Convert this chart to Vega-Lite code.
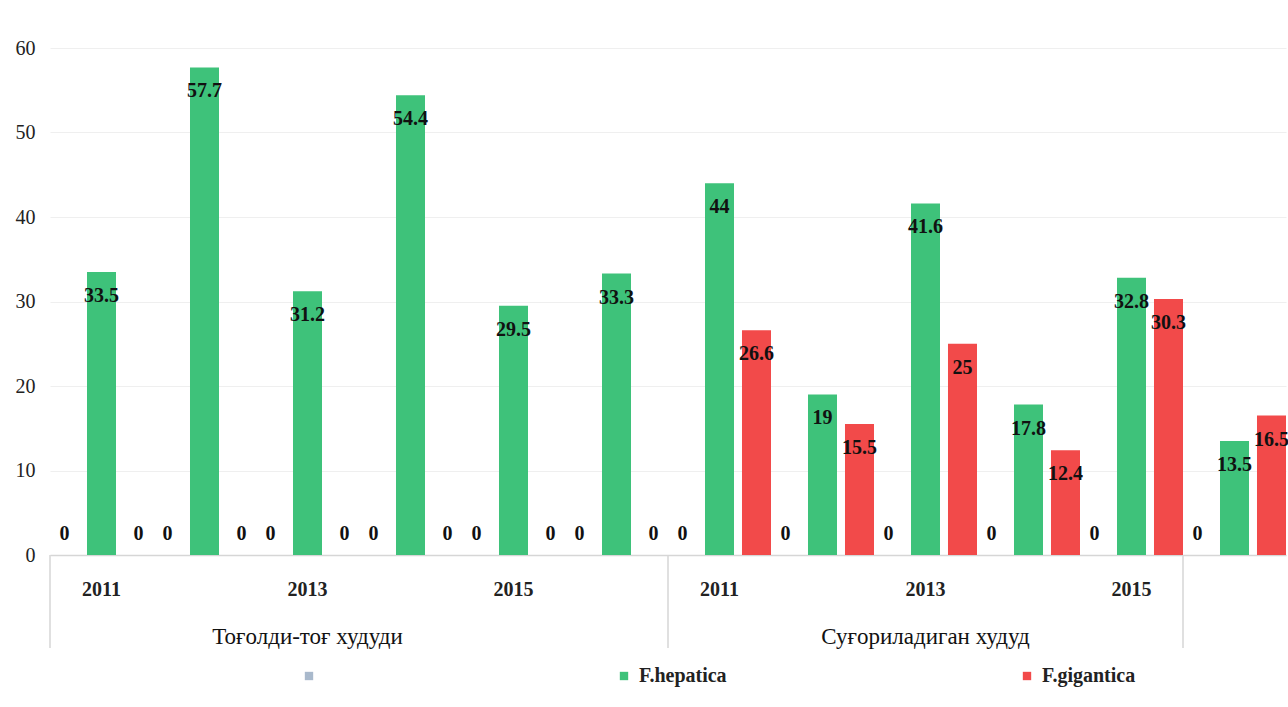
{
  "$schema": "https://vega.github.io/schema/vega-lite/v6.json",
  "width": 1236,
  "height": 507,
  "autosize": {"type": "none"},
  "padding": {"left": 50, "top": 48, "right": 2, "bottom": 152},
  "background": "white",
  "config": {"view": {"stroke": null}, "font": "Liberation Serif"},
  "datasets": {
    "bars": [
      {"key": "A2011", "series": " ", "value": 0},
      {"key": "A2011", "series": "F.hepatica", "value": 33.5},
      {"key": "A2011", "series": "F.gigantica", "value": 0},
      {"key": "A2012", "series": " ", "value": 0},
      {"key": "A2012", "series": "F.hepatica", "value": 57.7},
      {"key": "A2012", "series": "F.gigantica", "value": 0},
      {"key": "A2013", "series": " ", "value": 0},
      {"key": "A2013", "series": "F.hepatica", "value": 31.2},
      {"key": "A2013", "series": "F.gigantica", "value": 0},
      {"key": "A2014", "series": " ", "value": 0},
      {"key": "A2014", "series": "F.hepatica", "value": 54.4},
      {"key": "A2014", "series": "F.gigantica", "value": 0},
      {"key": "A2015", "series": " ", "value": 0},
      {"key": "A2015", "series": "F.hepatica", "value": 29.5},
      {"key": "A2015", "series": "F.gigantica", "value": 0},
      {"key": "A2016", "series": " ", "value": 0},
      {"key": "A2016", "series": "F.hepatica", "value": 33.3},
      {"key": "A2016", "series": "F.gigantica", "value": 0},
      {"key": "B2011", "series": " ", "value": 0},
      {"key": "B2011", "series": "F.hepatica", "value": 44},
      {"key": "B2011", "series": "F.gigantica", "value": 26.6},
      {"key": "B2012", "series": " ", "value": 0},
      {"key": "B2012", "series": "F.hepatica", "value": 19},
      {"key": "B2012", "series": "F.gigantica", "value": 15.5},
      {"key": "B2013", "series": " ", "value": 0},
      {"key": "B2013", "series": "F.hepatica", "value": 41.6},
      {"key": "B2013", "series": "F.gigantica", "value": 25},
      {"key": "B2014", "series": " ", "value": 0},
      {"key": "B2014", "series": "F.hepatica", "value": 17.8},
      {"key": "B2014", "series": "F.gigantica", "value": 12.4},
      {"key": "B2015", "series": " ", "value": 0},
      {"key": "B2015", "series": "F.hepatica", "value": 32.8},
      {"key": "B2015", "series": "F.gigantica", "value": 30.3},
      {"key": "C2011", "series": " ", "value": 0},
      {"key": "C2011", "series": "F.hepatica", "value": 13.5},
      {"key": "C2011", "series": "F.gigantica", "value": 16.5}
    ],
    "regions": [
      {"key": "A2013", "name": "Тоғолди-тоғ худуди"},
      {"key": "B2013", "name": "Суғориладиган худуд"}
    ],
    "seps": [
      {"key": "A2011"},
      {"key": "B2011"},
      {"key": "C2011"}
    ]
  },
  "layer": [
    {
      "data": {"name": "bars"},
      "mark": {"type": "bar"},
      "encoding": {
        "x": {
          "field": "key",
          "type": "nominal",
          "scale": {
            "domain": ["A2011", "A2012", "A2013", "A2014", "A2015", "A2016", "B2011", "B2012", "B2013", "B2014", "B2015", "C2011"],
            "paddingInner": 0,
            "paddingOuter": 0
          },
          "axis": {
            "title": null,
            "domain": true,
            "domainColor": "#d6d6d6",
            "domainWidth": 1.5,
            "ticks": false,
            "grid": false,
            "labelAngle": 0,
            "labelOverlap": false,
            "labelFlush": false,
            "labelPadding": 24,
            "labelBaseline": "top",
            "labelFont": "Liberation Serif",
            "labelFontSize": 20,
            "labelFontWeight": "bold",
            "labelColor": "#222222",
            "labelExpr": "indexof(['A2011','A2013','A2015','B2011','B2013','B2015'], datum.value) >= 0 ? slice(datum.value, 1) : ''"
          }
        },
        "xOffset": {
          "field": "series",
          "type": "nominal",
          "scale": {"domain": [" ", "F.hepatica", "F.gigantica"], "paddingInner": 0.216, "paddingOuter": 0}
        },
        "y": {
          "field": "value",
          "type": "quantitative",
          "scale": {"domain": [0, 60], "nice": false},
          "axis": {
            "title": null,
            "values": [0, 10, 20, 30, 40, 50, 60],
            "domain": false,
            "ticks": false,
            "grid": true,
            "gridColor": "#efefef",
            "labelPadding": 15,
            "labelFont": "Liberation Serif",
            "labelFontSize": 20,
            "labelColor": "#222222"
          }
        },
        "color": {
          "field": "series",
          "type": "nominal",
          "scale": {"domain": [" ", "F.hepatica", "F.gigantica"], "range": ["#a9b9cc", "#3ec27a", "#f24a4a"]},
          "legend": {
            "title": null,
            "orient": "none",
            "legendX": 249,
            "legendY": 618,
            "direction": "horizontal",
            "symbolType": "square",
            "symbolSize": 70,
            "symbolStrokeWidth": 0,
            "labelFont": "Liberation Serif",
            "labelFontSize": 20,
            "labelFontWeight": "bold",
            "labelColor": "#222222",
            "labelOffset": 5,
            "columnPadding": 290,
            "gridAlign": "each"
          }
        }
      }
    },
    {
      "data": {"name": "bars"},
      "transform": [{"filter": "datum.value > 0"}],
      "mark": {"type": "text", "baseline": "middle", "align": "center", "dy": 24, "font": "Liberation Serif", "fontSize": 20, "fontWeight": "bold", "color": "#111111"},
      "encoding": {
        "x": {"field": "key", "type": "nominal"},
        "xOffset": {"field": "series", "type": "nominal"},
        "y": {"field": "value", "type": "quantitative"},
        "text": {"field": "value", "type": "quantitative"}
      }
    },
    {
      "data": {"name": "bars"},
      "transform": [{"filter": "datum.value == 0"}],
      "mark": {"type": "text", "baseline": "middle", "align": "center", "dy": -21, "font": "Liberation Serif", "fontSize": 20, "fontWeight": "bold", "color": "#111111"},
      "encoding": {
        "x": {"field": "key", "type": "nominal"},
        "xOffset": {"field": "series", "type": "nominal"},
        "y": {"field": "value", "type": "quantitative"},
        "text": {"field": "value", "type": "quantitative"}
      }
    },
    {
      "data": {"name": "regions"},
      "mark": {"type": "text", "baseline": "middle", "align": "center", "font": "Liberation Serif", "fontSize": 23, "color": "#111111"},
      "encoding": {
        "x": {"field": "key", "type": "nominal"},
        "y": {"datum": -9.7, "type": "quantitative"},
        "text": {"field": "name", "type": "nominal"}
      }
    },
    {
      "data": {"name": "seps"},
      "mark": {"type": "rule", "color": "#d6d6d6", "strokeWidth": 1.5},
      "encoding": {
        "x": {"field": "key", "type": "nominal", "bandPosition": 0},
        "y": {"datum": 0, "type": "quantitative"},
        "y2": {"datum": -11}
      }
    }
  ]
}
